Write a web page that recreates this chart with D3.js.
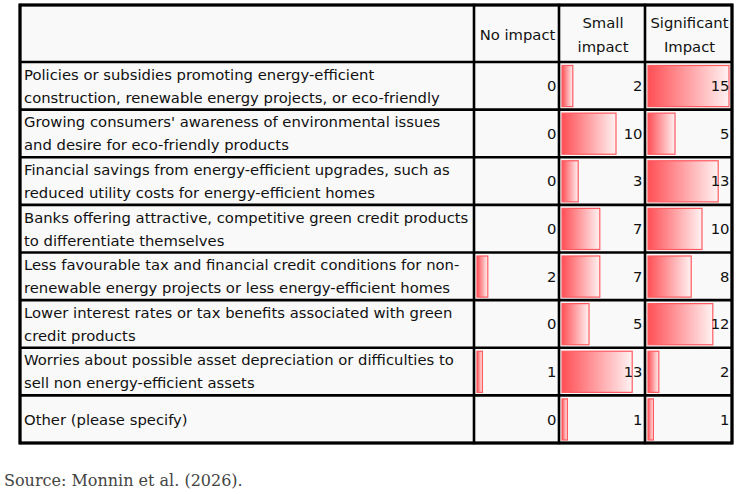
<!DOCTYPE html>
<html>
<head>
<meta charset="utf-8">
<script src="https://cdn.jsdelivr.net/npm/d3@7"></script>
<style>
  html, body { margin: 0; padding: 0; background: #fff; }
  svg { display: block; }
</style>
</head>
<body>
<div id="chart"></div>
<script>
// row labels, one entry per line of text
const drivers = [
  ["Policies or subsidies promoting energy-efficient", "construction, renewable energy projects, or eco-friendly"],
  ["Growing consumers' awareness of environmental issues", "and desire for eco-friendly products"],
  ["Financial savings from energy-efficient upgrades, such as", "reduced utility costs for energy-efficient homes"],
  ["Banks offering attractive, competitive green credit products", "to differentiate themselves"],
  ["Less favourable tax and financial credit conditions for non-", "renewable energy projects or less energy-efficient homes"],
  ["Lower interest rates or tax benefits associated with green", "credit products"],
  ["Worries about possible asset depreciation or difficulties to", "sell non energy-efficient assets"],
  ["Other (please specify)"]
];
const impactHeaders = [["No impact"], ["Small", "impact"], ["Significant", "Impact"]];
const noImpact = [0, 0, 0, 0, 2, 0, 1, 0];
const smallImpact = [2, 10, 3, 7, 7, 5, 13, 1];
const significantImpact = [15, 5, 13, 10, 8, 12, 2, 1];
const sourceNote = "Source: Monnin et al. (2026).";

const width = 751, height = 494;
const table = {left: 20, top: 5, headerBottom: 62, bottom: 443};
const colEdges = [20, 474, 559, 645, 732];   // label | no | small | significant
const font = "'DejaVu Sans', sans-serif";
const fontSize = 14.8;

const series = [noImpact, smallImpact, significantImpact];

const svg = d3.select("#chart").append("svg")
    .attr("width", width)
    .attr("height", height)
    .attr("viewBox", [0, 0, width, height]);

const defs = svg.append("defs");
const grad = defs.append("linearGradient").attr("id", "barGrad")
    .attr("x1", "0%").attr("x2", "100%").attr("y1", "0%").attr("y2", "0%");
grad.append("stop").attr("offset", "0%").attr("stop-color", "#ff4f55");
grad.append("stop").attr("offset", "100%").attr("stop-color", "#fff2f2");

const y = d3.scaleBand()
    .domain(d3.range(drivers.length))
    .range([table.headerBottom, table.bottom]);

const x = d3.scaleLinear([0, 15], [0, 81]);

// cell backgrounds
svg.append("rect")
    .attr("x", table.left).attr("y", table.top)
    .attr("width", colEdges[4] - table.left)
    .attr("height", table.bottom - table.top)
    .attr("fill", "#f9f9f9");

// bars
const cells = svg.append("g");
series.forEach((vals, c) => {
  const x0 = colEdges[c + 1] + 3;
  cells.append("g").selectAll("rect")
    .data(vals.map((v, i) => ({v, i})).filter(d => d.v > 0))
    .join("rect")
      .attr("x", x0)
      .attr("y", d => y(d.i) + 3.5)
      .attr("width", d => x(d.v))
      .attr("height", y.bandwidth() - 6.5)
      .attr("fill", "url(#barGrad)")
      .attr("stroke", "#ff5a60")
      .attr("stroke-width", 1.2);

  cells.append("g").selectAll("text")
    .data(vals)
    .join("text")
      .attr("x", colEdges[c + 2] - 2.5)
      .attr("y", (d, i) => y(i) + y.bandwidth() / 2)
      .attr("dy", "0.36em")
      .attr("text-anchor", "end")
      .attr("font-family", font)
      .attr("font-size", fontSize)
      .attr("fill", "#111")
      .text(d => d);
});

// header text
const head = svg.append("g")
    .attr("font-family", font)
    .attr("font-size", fontSize)
    .attr("fill", "#111")
    .attr("text-anchor", "middle");
impactHeaders.forEach((lines, c) => {
  const cx = (colEdges[c + 1] + colEdges[c + 2]) / 2 + 1;
  const cy = (table.top + table.headerBottom) / 2 + 1;
  lines.forEach((t, k) => {
    head.append("text")
      .attr("x", cx)
      .attr("y", cy + (k - (lines.length - 1) / 2) * 24)
      .attr("dy", "0.36em")
      .text(t);
  });
});

// row labels
const labels = svg.append("g")
    .attr("font-family", font)
    .attr("font-size", fontSize)
    .attr("fill", "#111");
drivers.forEach((lines, i) => {
  const cy = y(i) + y.bandwidth() / 2;
  lines.forEach((t, k) => {
    labels.append("text")
      .attr("x", table.left + 4)
      .attr("y", cy + (k - (lines.length - 1) / 2) * 23)
      .attr("dy", "0.36em")
      .text(t);
  });
});

// grid lines
const grid = svg.append("g").attr("stroke", "#000").attr("stroke-width", 2.6).attr("fill", "none");
[table.top, table.headerBottom, ...d3.range(1, drivers.length).map(i => y(i)), table.bottom].forEach(yy => {
  grid.append("line").attr("x1", table.left).attr("x2", colEdges[4]).attr("y1", yy).attr("y2", yy);
});
colEdges.forEach(xx => {
  grid.append("line").attr("x1", xx).attr("x2", xx).attr("y1", table.top - 1.3).attr("y2", table.bottom + 1.3);
});
grid.append("rect")
    .attr("x", table.left).attr("y", table.top)
    .attr("width", colEdges[4] - table.left)
    .attr("height", table.bottom - table.top)
    .attr("stroke-width", 3);

// source note
svg.append("text")
    .attr("x", 4)
    .attr("y", 486)
    .attr("font-family", "'DejaVu Serif', serif")
    .attr("font-size", 16)
    .attr("fill", "#444")
    .text(sourceNote);
</script>
</body>
</html>
